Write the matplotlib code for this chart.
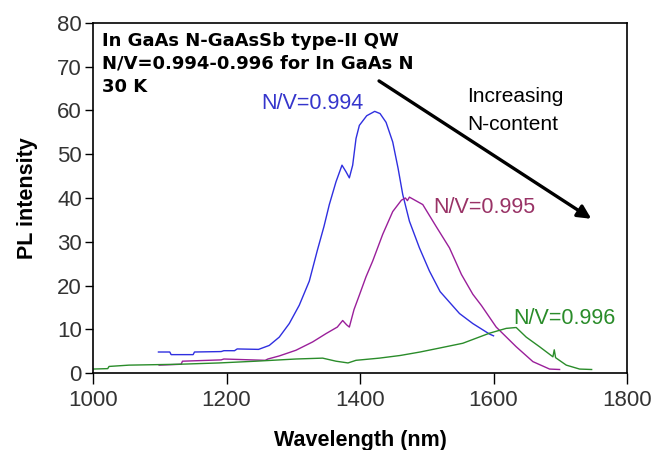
import numpy as np
import matplotlib
matplotlib.use('Agg')
from matplotlib import pyplot as plt

plt.rcParams['font.family'] = ['Liberation Sans', 'DejaVu Sans']

# N/V = 0.994 (blue)
wl_994 = [1098, 1115, 1117, 1150, 1152, 1192, 1196, 1212, 1216, 1248, 1264, 1279, 1294, 1309,
          1324, 1336, 1346, 1354, 1364, 1373, 1379, 1384, 1389, 1394, 1399, 1410, 1422, 1430,
          1439, 1449, 1457, 1464, 1474, 1489, 1504, 1520, 1549, 1569, 1594, 1600]
pl_994 = [4.8, 4.8, 4.2, 4.2, 4.8, 4.9, 5.1, 5.1, 5.5, 5.4, 6.3, 8.2, 11.3, 15.5,
          21.0, 28.0, 33.5, 38.5, 43.7, 47.5, 46.0, 44.6, 47.5, 53.6, 56.6, 58.8, 59.8, 59.3,
          57.3, 52.8, 46.8, 40.8, 34.7, 28.6, 23.3, 18.6, 13.6, 11.3, 8.9, 8.5]

# N/V = 0.995 (purple)
wl_995 = [1099, 1132, 1134, 1192, 1196, 1258, 1262, 1279, 1304, 1329, 1349, 1366, 1374, 1380,
          1384, 1391, 1399, 1409, 1419, 1434, 1449, 1462, 1468, 1471, 1474, 1494, 1514, 1534,
          1552, 1569, 1582, 1604, 1634, 1659, 1684, 1699]
pl_995 = [1.8, 2.0, 2.7, 3.0, 3.2, 2.9, 3.2, 3.9, 5.2, 7.1, 9.0, 10.5, 12.0, 11.0,
          10.5, 14.5, 17.8, 22.0, 25.6, 31.7, 36.9, 39.5, 40.0, 39.4, 40.2, 38.5, 33.5, 28.6,
          22.5, 18.0, 15.4, 10.5, 6.0, 2.6, 0.9, 0.8]

# N/V = 0.996 (green)
wl_996 = [999, 1022, 1024, 1054, 1129, 1189, 1244, 1304, 1344, 1364, 1382, 1394, 1429, 1460,
          1490, 1519, 1554, 1594, 1619, 1634, 1649, 1669, 1689, 1691, 1693, 1709, 1729, 1747]
pl_996 = [0.9, 1.0, 1.5, 1.8, 2.0, 2.3, 2.7, 3.2, 3.4, 2.7, 2.3, 2.9, 3.4, 4.0,
          4.8, 5.7, 6.8, 9.1, 10.2, 10.4, 8.2, 6.0, 3.7, 5.3, 3.5, 1.8, 0.9, 0.8]

title_lines = ['In GaAs N-GaAsSb type-II QW', 'N/V=0.994-0.996 for In GaAs N', '30 K']

blue = '#2f2fe0'
purple = '#9a1f9a'
green = '#2a8c2a'

fig = plt.figure(figsize=(6.64, 4.5), dpi=100)
ax = fig.add_axes([0.1401, 0.1711, 0.8042, 0.7778])

ax.plot(wl_994, pl_994, color=blue, lw=1)
ax.plot(wl_995, pl_995, color=purple, lw=1)
ax.plot(wl_996, pl_996, color=green, lw=1)

ax.set_xlim(1000, 1800)
ax.set_ylim(0, 80)
ax.set_xticks(np.arange(1000, 1801, 200))
ax.set_yticks(np.arange(0, 81, 10))
ax.tick_params(direction='out', labelsize=16, colors='black', labelcolor='#333333', width=1)
ax.tick_params(axis='x', length=8, pad=4)
ax.tick_params(axis='y', length=6, pad=2)
for s in ax.spines.values():
    s.set_linewidth(1.2)
ax.set_xlabel('Wavelength (nm)', fontsize=15.5, fontweight='bold', labelpad=14)
ax.set_ylabel('PL intensity', fontsize=15.5, fontweight='bold', labelpad=14)

for y, line in zip([74.8, 69.6, 64.2], title_lines):
    ax.text(1013, y, line, fontsize=13, fontweight='bold', family='DejaVu Sans', va='baseline')
ax.text(1252, 60.3, 'N/V=0.994', color='#3535cc', fontsize=15.5, va='baseline')
ax.text(1509, 36.5, 'N/V=0.995', color='#993366', fontsize=15.5, va='baseline')
ax.text(1629, 11.3, 'N/V=0.996', color=green, fontsize=15.5, va='baseline')
ax.text(1560, 61.9, 'Increasing', fontsize=15, va='baseline')
ax.text(1560, 55.5, 'N-content', fontsize=15, va='baseline')

ax.annotate('', xy=(1750, 34.9), xytext=(1425, 67.1),
            arrowprops=dict(arrowstyle='-|>', lw=2.4, color='black', mutation_scale=20))

fig.savefig('out.png', dpi=100)
